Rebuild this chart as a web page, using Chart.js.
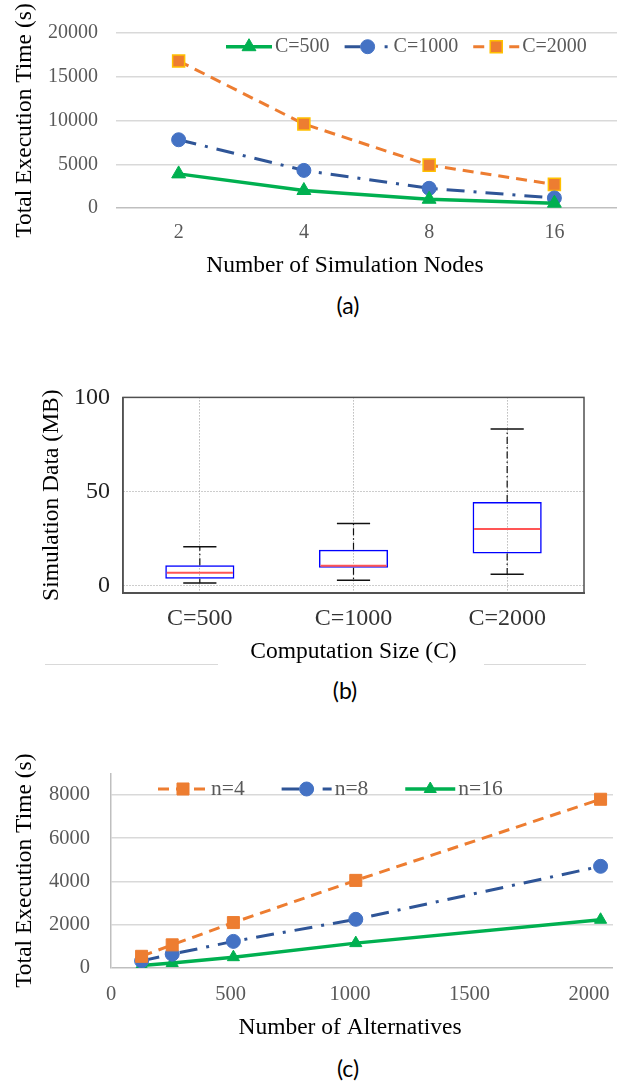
<!DOCTYPE html>
<html>
<head>
<meta charset="utf-8">
<script src="https://cdn.jsdelivr.net/npm/chart.js@4.4.1/dist/chart.umd.min.js"></script>
<style>
  body { margin: 0; background: #fff; overflow: hidden; }
  #page { position: relative; width: 627px; height: 1082px; background: #fff; }
  canvas { position: absolute; left: 0; }
  .cap { position: absolute; font-family: Lato, "Open Sans", sans-serif; font-size: 23px; color: #000; transform: translate(-50%, -50%); }
  .rule { position: absolute; height: 0; border-top: 1.5px solid #d9d9d9; }
</style>
</head>
<body>
<div id="page">
  <canvas id="chartA" width="627" height="290" style="top:0"></canvas>
  <div class="cap" style="left:348px; top:305px">(a)</div>
  <canvas id="chartB" width="627" height="300" style="top:370px"></canvas>
  <div class="rule" style="left:45px; width:173px; top:664px"></div>
  <div class="rule" style="left:484px; width:102px; top:664px"></div>
  <div class="cap" style="left:345px; top:690px">(b)</div>
  <canvas id="chartC" width="627" height="305" style="top:740px"></canvas>
  <div class="cap" style="left:348px; top:1068px">(c)</div>
</div>
<script>
// (a) execution time vs. number of simulation nodes
const nodeCounts = ['2', '4', '8', '16'];
const timeC500 = [3900, 2000, 1000, 550];
const timeC1000 = [7800, 4300, 2250, 1150];
const timeC2000 = [16800, 9600, 4900, 2700];
const timeTicksA = [0, 5000, 10000, 15000, 20000];

// (b) simulation data box plot
const sizeLabels = ['C=500', 'C=1000', 'C=2000'];
const dataMin = [1.5, 3.0, 6.2];
const dataQ1 = [3.7, 9.6, 17.1];
const dataMedian = [6.9, 10.6, 30.2];
const dataQ3 = [10.9, 19.2, 44.5];
const dataMax = [20.7, 33.1, 83.2];
const dataTicksB = [0, 50, 100];

// (c) execution time vs. number of alternatives
const alternatives = [128, 256, 512, 1024, 2048];
const timeN4 = [540, 1070, 2100, 4050, 7800];
const timeN8 = [330, 640, 1230, 2250, 4700];
const timeN16 = [120, 230, 500, 1150, 2230];
const timeTicksC = [0, 2000, 4000, 6000, 8000];
const altTicksC = [0, 500, 1000, 1500, 2000];

const serif = "'Liberation Serif', 'Times New Roman', serif";
const GREEN = '#00B050', BLUE = '#4472C4', NAVY = '#2F5597', ORANGE = '#ED7D31', GOLD = '#FFC000';
const GREY_TEXT = '#595959';
const DASH = [11, 7];
const DASH_DOT = [18, 9, 3, 9];

Chart.defaults.font.family = serif;
Chart.defaults.animation = false;

const asTicks = arr => s => { s.ticks = arr.map(v => ({ value: v })); };
const excelGrid = c => (c.tick && c.tick.value === 0) ? '#BFBFBF' : '#D9D9D9';

// legend drawn inside the plot: line sample + marker + label
const lineLegend = {
  id: 'lineLegend',
  afterDatasetsDraw(chart, args, o) {
    const ctx = chart.ctx;
    let x = o.x;
    ctx.save();
    ctx.font = o.size + 'px ' + serif;
    ctx.textBaseline = 'middle';
    chart.data.datasets.forEach((ds, i) => {
      const w = o.symbolWidth;
      ctx.strokeStyle = ds.borderColor;
      ctx.lineWidth = ds.borderWidth;
      ctx.setLineDash(o.dashes[i]);
      ctx.beginPath();
      ctx.moveTo(x, o.y);
      ctx.lineTo(x + w, o.y);
      ctx.stroke();
      ctx.setLineDash([]);
      ctx.fillStyle = ds.pointBackgroundColor;
      ctx.strokeStyle = ds.pointBorderColor;
      ctx.lineWidth = ds.pointBorderWidth;
      Chart.helpers.drawPoint(ctx, { pointStyle: ds.pointStyle, radius: ds.pointRadius, borderWidth: ds.pointBorderWidth, rotation: 0 }, x + w / 2, o.y);
      x += w + o.gap;
      ctx.fillStyle = GREY_TEXT;
      ctx.fillText(ds.label, x, o.y);
      x += ctx.measureText(ds.label).width + o.spacing;
    });
    ctx.restore();
  }
};

// x title in the source is centred on the figure, not on the plot area
const titleShift = {
  id: 'titleShift',
  afterLayout(chart, args, o) {
    if (o.center != null) chart.scales.x.left = 2 * o.center - chart.scales.x.right;
  }
};

// whiskers, caps, medians and frame for the box plot
const boxWhiskers = {
  id: 'boxWhiskers',
  beforeDatasetsDraw(chart) {
    const { ctx, chartArea: a } = chart;
    ctx.save();
    ctx.strokeStyle = '#505050';
    ctx.lineWidth = 1.5;
    ctx.strokeRect(a.left, a.top, a.right - a.left, a.bottom - a.top);
    ctx.restore();
  },
  afterDatasetsDraw(chart) {
    const { ctx, scales: { x, y } } = chart;
    const bars = chart.getDatasetMeta(0).data;
    const capHalf = (x.width / sizeLabels.length) * 0.108;
    ctx.save();
    sizeLabels.forEach((lab, i) => {
      const cx = x.getPixelForValue(i);
      const half = bars[i].width / 2;
      ctx.strokeStyle = '#111';
      ctx.lineWidth = 1.2;
      ctx.setLineDash([7, 3, 1.5, 3]);
      ctx.beginPath();
      ctx.moveTo(cx, y.getPixelForValue(dataQ3[i]));
      ctx.lineTo(cx, y.getPixelForValue(dataMax[i]));
      ctx.moveTo(cx, y.getPixelForValue(dataQ1[i]));
      ctx.lineTo(cx, y.getPixelForValue(dataMin[i]));
      ctx.stroke();
      ctx.setLineDash([]);
      ctx.lineWidth = 1.5;
      ctx.beginPath();
      [dataMax[i], dataMin[i]].forEach(v => {
        const py = y.getPixelForValue(v);
        ctx.moveTo(cx - capHalf, py);
        ctx.lineTo(cx + capHalf, py);
      });
      ctx.stroke();
      ctx.strokeStyle = '#FF5555';
      ctx.lineWidth = 2;
      const my = y.getPixelForValue(dataMedian[i]);
      ctx.beginPath();
      ctx.moveTo(cx - half + 1.5, my);
      ctx.lineTo(cx + half - 1.5, my);
      ctx.stroke();
    });
    ctx.restore();
  }
};

new Chart(document.getElementById('chartA'), {
  type: 'line',
  data: {
    labels: nodeCounts,
    datasets: [
      { label: 'C=500', data: timeC500, borderColor: GREEN, borderWidth: 3.5, tension: 0,
        pointStyle: 'triangle', pointRadius: 8, pointBackgroundColor: GREEN, pointBorderColor: GREEN, pointBorderWidth: 1 },
      { label: 'C=1000', data: timeC1000, borderColor: NAVY, borderWidth: 3, borderDash: DASH_DOT, tension: 0,
        pointStyle: 'circle', pointRadius: 7, pointBackgroundColor: BLUE, pointBorderColor: BLUE, pointBorderWidth: 1 },
      { label: 'C=2000', data: timeC2000, borderColor: ORANGE, borderWidth: 3, borderDash: DASH, tension: 0,
        pointStyle: 'rect', pointRadius: 8.5, pointBackgroundColor: ORANGE, pointBorderColor: GOLD, pointBorderWidth: 1.5 }
    ]
  },
  options: {
    responsive: false,
    layout: { padding: { top: 33, right: 0, bottom: 0, left: 0 } },
    plugins: {
      legend: { display: false },
      tooltip: { enabled: false },
      lineLegend: { x: 226, y: 46.7, size: 20, symbolWidth: 46, gap: 3, spacing: 15,
        dashes: [[], [16, 24, 3, 20], DASH] },
      titleShift: { center: 345 }
    },
    scales: {
      x: {
        offset: true,
        grid: { display: false, drawTicks: false },
        border: { display: false },
        ticks: { color: GREY_TEXT, font: { size: 20 }, padding: 13 },
        title: { display: true, text: 'Number of Simulation Nodes', color: '#000', font: { size: 23.5 }, padding: { top: 0, bottom: 10 } },
        afterFit: s => { s.height = 82; }
      },
      y: {
        min: 0, max: 20000,
        afterBuildTicks: asTicks(timeTicksA),
        grid: { color: excelGrid, lineWidth: 1.5, drawTicks: false },
        border: { display: false },
        ticks: { color: GREY_TEXT, font: { size: 20 }, padding: 18, callback: v => String(v) },
        title: { display: true, text: 'Total Execution Time (s)', color: '#000', font: { size: 23.5 }, padding: { top: 11, bottom: 0 } },
        afterFit: s => { s.width = 116; }
      }
    }
  },
  plugins: [lineLegend, titleShift]
});

new Chart(document.getElementById('chartB'), {
  type: 'bar',
  data: {
    labels: sizeLabels,
    datasets: [{
      label: 'Simulation Data',
      data: dataQ1.map((q, i) => [q, dataQ3[i]]),
      backgroundColor: 'rgba(0,0,0,0)',
      borderColor: '#0000FF',
      borderWidth: 1.5,
      borderSkipped: false,
      barPercentage: 0.45,
      categoryPercentage: 1
    }]
  },
  options: {
    responsive: false,
    layout: { padding: { top: 17, right: 43, bottom: 0, left: 0 } },
    plugins: { legend: { display: false }, tooltip: { enabled: false } },
    scales: {
      x: {
        grid: { offset: false, color: '#9A9A9A', lineWidth: 1, drawTicks: false },
        border: { color: '#555', width: 2, dash: [1, 2] },
        ticks: { color: '#333', font: { size: 24 }, padding: 11 },
        title: { display: true, text: 'Computation Size (C)', color: '#000', font: { size: 23.5 }, padding: { top: 0, bottom: 4 } },
        afterFit: s => { s.height = 77; }
      },
      y: {
        min: -3.8, max: 100,
        afterBuildTicks: asTicks(dataTicksB),
        grid: { color: '#9A9A9A', lineWidth: 1, drawTicks: false },
        border: { color: '#555', width: 1.5, dash: [1, 2] },
        ticks: { color: '#222', font: { size: 24 }, padding: 13, callback: v => String(v) },
        title: { display: true, text: 'Simulation Data (MB)', color: '#000', font: { size: 23.5 }, padding: { top: 38, bottom: 0 } },
        afterFit: s => { s.width = 123; }
      }
    }
  },
  plugins: [boxWhiskers]
});

const xy = ys => alternatives.map((a, i) => ({ x: a, y: ys[i] }));

new Chart(document.getElementById('chartC'), {
  type: 'line',
  data: {
    datasets: [
      { label: 'n=4', data: xy(timeN4), borderColor: ORANGE, borderWidth: 3, borderDash: DASH, tension: 0,
        pointStyle: 'rect', pointRadius: 8.5, pointBackgroundColor: ORANGE, pointBorderColor: ORANGE, pointBorderWidth: 1 },
      { label: 'n=8', data: xy(timeN8), borderColor: NAVY, borderWidth: 3, borderDash: DASH_DOT, tension: 0,
        pointStyle: 'circle', pointRadius: 7, pointBackgroundColor: BLUE, pointBorderColor: BLUE, pointBorderWidth: 1 },
      { label: 'n=16', data: xy(timeN16), borderColor: GREEN, borderWidth: 3.5, tension: 0,
        pointStyle: 'triangle', pointRadius: 7, pointBackgroundColor: GREEN, pointBorderColor: GREEN, pointBorderWidth: 1 }
    ]
  },
  options: {
    responsive: false,
    layout: { padding: { top: 18, right: 14, bottom: 0, left: 0 } },
    plugins: {
      legend: { display: false },
      tooltip: { enabled: false },
      lineLegend: { x: 158, y: 49, size: 21.5, symbolWidth: 50, gap: 3, spacing: 37,
        dashes: [DASH, [18, 23, 9, 10], []] },
      titleShift: { center: 350 }
    },
    scales: {
      x: {
        type: 'linear', min: 0, max: 2100,
        afterBuildTicks: asTicks(altTicksC),
        grid: { display: false, drawTicks: false },
        border: { display: false },
        ticks: { color: GREY_TEXT, font: { size: 20.5 }, padding: 14, callback: v => String(v) },
        title: { display: true, text: 'Number of Alternatives', color: '#000', font: { size: 23.5 }, padding: { top: 0, bottom: 3 } },
        afterFit: s => { s.height = 77; }
      },
      y: {
        min: 0, max: 9000,
        afterBuildTicks: asTicks(timeTicksC),
        grid: { color: excelGrid, lineWidth: 1.5, drawTicks: false },
        border: { display: true, color: '#BFBFBF', width: 1.5 },
        ticks: { color: GREY_TEXT, font: { size: 20.5 }, padding: 21, callback: v => String(v) },
        title: { display: true, text: 'Total Execution Time (s)', color: '#000', font: { size: 23.5 }, padding: { top: 11, bottom: 0 } },
        afterFit: s => { s.width = 111; }
      }
    }
  },
  plugins: [lineLegend, titleShift]
});
</script>
</body>
</html>
